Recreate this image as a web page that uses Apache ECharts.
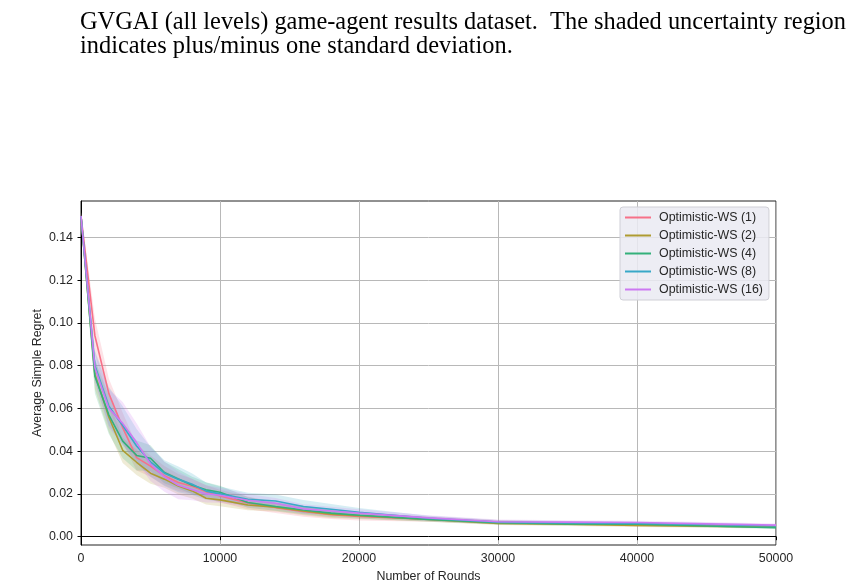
<!DOCTYPE html>
<html>
<head>
<meta charset="utf-8">
<title>Optimistic-WS simple regret</title>
<script src="https://cdn.jsdelivr.net/npm/echarts@6.0.0/dist/echarts.min.js"></script>
<style>
  html, body { margin: 0; padding: 0; background: #fff; }
  #chart { width: 853px; height: 588px; }
</style>
</head>
<body>
<div id="chart"></div>
<script>
var rounds = [0, 1000, 2000, 3000, 4000, 5000, 6000, 7000, 8000, 9000, 10000,
              12000, 14000, 16000, 18000, 20000, 25000, 30000, 35000, 40000, 45000, 50000];

var names = ['Optimistic-WS (1)', 'Optimistic-WS (2)', 'Optimistic-WS (4)', 'Optimistic-WS (8)', 'Optimistic-WS (16)'];
var colors = ['#f77189', '#ae9b31', '#33b07a', '#38a8c8', '#cc79f2'];

// mean simple regret per series
var ws1  = [0.150, 0.094, 0.067, 0.051, 0.037, 0.033, 0.0285, 0.0253, 0.0236, 0.0210, 0.0190,
            0.0158, 0.0136, 0.0118, 0.0103, 0.0094, 0.0082, 0.0068, 0.0062, 0.0056, 0.0052, 0.0048];
var ws2  = [0.150, 0.076, 0.056, 0.0404, 0.0348, 0.0297, 0.0269, 0.0237, 0.0214, 0.0180, 0.0172,
            0.0148, 0.0138, 0.0120, 0.0105, 0.0098, 0.0080, 0.0062, 0.0058, 0.0052, 0.0049, 0.0046];
var ws4  = [0.150, 0.075, 0.057, 0.0447, 0.038, 0.0367, 0.0300, 0.0270, 0.0240, 0.0219, 0.0208,
            0.0160, 0.0141, 0.0125, 0.0110, 0.0100, 0.0081, 0.0065, 0.0060, 0.0058, 0.0050, 0.0042];
var ws8  = [0.150, 0.080, 0.061, 0.052, 0.0424, 0.035, 0.0297, 0.0268, 0.0245, 0.0213, 0.0200,
            0.0175, 0.0167, 0.0141, 0.0128, 0.0114, 0.0086, 0.0068, 0.0064, 0.0062, 0.0057, 0.0050];
var ws16 = [0.150, 0.079, 0.060, 0.053, 0.044, 0.034, 0.0280, 0.0240, 0.0220, 0.0200, 0.0194,
            0.0170, 0.0156, 0.0130, 0.0120, 0.0110, 0.0088, 0.0070, 0.0068, 0.0066, 0.0060, 0.0054];

// one standard deviation per series
var sd1  = [0.002, 0.008, 0.007, 0.007, 0.006, 0.005, 0.0045, 0.004, 0.0035, 0.003, 0.003,
            0.003, 0.0025, 0.0025, 0.002, 0.0018, 0.0012, 0.001, 0.0008, 0.0008, 0.0007, 0.0007];
var sd2  = [0.002, 0.007, 0.007, 0.006, 0.006, 0.005, 0.004, 0.004, 0.0035, 0.003, 0.003,
            0.0025, 0.002, 0.002, 0.0018, 0.0015, 0.001, 0.0008, 0.0008, 0.0007, 0.0007, 0.0006];
var sd4  = [0.002, 0.008, 0.009, 0.008, 0.007, 0.006, 0.005, 0.0045, 0.004, 0.0035, 0.003,
            0.0025, 0.002, 0.002, 0.0018, 0.0015, 0.001, 0.0008, 0.0008, 0.0007, 0.0007, 0.0006];
var sd8  = [0.002, 0.007, 0.009, 0.009, 0.008, 0.007, 0.006, 0.006, 0.005, 0.004, 0.0035,
            0.003, 0.003, 0.003, 0.0025, 0.002, 0.0012, 0.001, 0.0009, 0.0008, 0.0008, 0.0007];
var sd16 = [0.002, 0.007, 0.009, 0.010, 0.009, 0.008, 0.007, 0.0065, 0.005, 0.004, 0.0035,
            0.003, 0.0025, 0.0022, 0.002, 0.0018, 0.0012, 0.001, 0.0009, 0.0009, 0.0008, 0.0008];

var yTicks = [0, 0.02, 0.04, 0.06, 0.08, 0.10, 0.12, 0.14];

var captionLines = [
    'GVGAI (all levels) game-agent results dataset.  The shaded uncertainty region',
    'indicates plus/minus one standard deviation.'
];

var means = [ws1, ws2, ws4, ws8, ws16];
var sds = [sd1, sd2, sd4, sd8, sd16];

function hexA(hex, a) {
    var r = parseInt(hex.substr(1, 2), 16), g = parseInt(hex.substr(3, 2), 16), b = parseInt(hex.substr(5, 2), 16);
    return 'rgba(' + r + ',' + g + ',' + b + ',' + a + ')';
}

// band = one polygon, upper edge forward then lower edge back
function bandSeries(band, color, name) {
    return {
        name: name, type: 'custom', data: band,
        encode: { x: 0, y: [1, 2] },
        renderItem: function (params, api) {
            if (params.dataIndex !== 0) return;
            var pts = [];
            for (var i = 0; i < band.length; i++) pts.push(api.coord([band[i][0], band[i][2]]));
            for (var i = band.length - 1; i >= 0; i--) pts.push(api.coord([band[i][0], band[i][1]]));
            return {
                type: 'polygon',
                shape: { points: pts },
                style: { fill: color, stroke: 'none' },
                silent: true
            };
        },
        clip: true, z: 1
    };
}

var series = [];
for (var s = 0; s < means.length; s++) {
    var band = [];
    for (var i = 0; i < rounds.length; i++) {
        band.push([rounds[i], means[s][i] - sds[s][i], means[s][i] + sds[s][i]]);
    }
    series.push(bandSeries(band, hexA(colors[s], 0.2), names[s] + ' sd'));
}
for (var s = 0; s < means.length; s++) {
    var pts = [];
    for (var i = 0; i < rounds.length; i++) pts.push([rounds[i], means[s][i]]);
    series.push({
        name: names[s], type: 'line', data: pts, showSymbol: false,
        color: colors[s], lineStyle: { width: 1.6, color: colors[s] }, z: 3 + s
    });
}

var font = 'Liberation Sans, Arial, sans-serif';
var chart = echarts.init(document.getElementById('chart'));
chart.setOption({
    animation: false,
    backgroundColor: '#fff',
    graphic: [
        { type: 'text', left: 80, top: 11, style: { text: captionLines[0], font: '24.4px "Liberation Serif", serif', fill: '#000' } },
        { type: 'text', left: 80, top: 35, style: { text: captionLines[1], font: '24.4px "Liberation Serif", serif', fill: '#000' } }
    ],
    grid: {
        left: 81, right: 77, top: 201, bottom: 42,
        show: true, borderColor: '#222', borderWidth: 1, backgroundColor: 'transparent'
    },
    legend: {
        data: names,
        orient: 'vertical',
        left: 620, top: 207,
        icon: 'rect', itemWidth: 26, itemHeight: 2, itemGap: 5,
        padding: [4, 6, 4, 5],
        backgroundColor: 'rgba(234,234,242,0.85)',
        borderColor: '#cfcfd6', borderWidth: 1, borderRadius: 3,
        textStyle: { fontFamily: font, fontSize: 12.4, color: '#262626', lineHeight: 13, padding: [0, 0, 0, 3] }
    },
    xAxis: {
        type: 'value', min: 0, max: 50000, interval: 10000,
        name: 'Number of Rounds', nameLocation: 'middle', nameGap: 26, nameMoveOverlap: false,
        nameTextStyle: { fontFamily: font, fontSize: 12.4, color: '#262626' },
        axisLine: { lineStyle: { color: '#000', width: 1 } },
        axisTick: { show: true, length: 3.5, lineStyle: { color: '#000' } },
        axisLabel: {
            fontFamily: font, fontSize: 12.4, color: '#262626', margin: 8,
            formatter: function (v) { return String(v); }
        },
        splitLine: { show: true, lineStyle: { color: '#b8b8b8', width: 1 } }
    },
    yAxis: {
        type: 'value', min: -0.0039, max: 0.157,
        name: 'Average Simple Regret', nameLocation: 'middle', nameGap: 37, nameMoveOverlap: false,
        nameTextStyle: { fontFamily: font, fontSize: 12.4, color: '#262626' },
        axisLine: { show: true, lineStyle: { color: '#000', width: 1 } },
        axisTick: { show: true, length: 3.5, lineStyle: { color: '#000' }, customValues: yTicks },
        axisLabel: {
            fontFamily: font, fontSize: 12.4, color: '#262626', margin: 8, customValues: yTicks,
            formatter: function (v) { return v.toFixed(2); }
        },
        splitLine: { show: true, lineStyle: { color: '#b8b8b8', width: 1 } }
    },
    series: series
});
</script>
</body>
</html>
